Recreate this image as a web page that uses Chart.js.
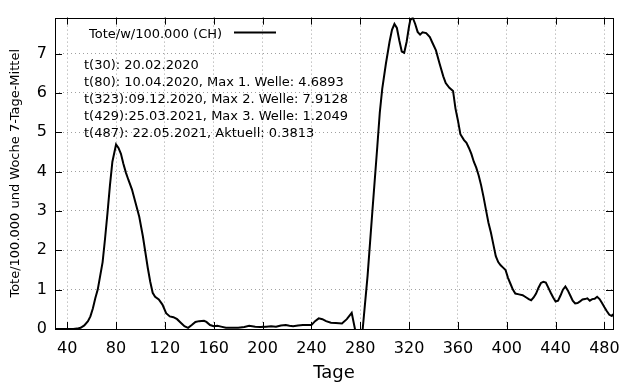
<!DOCTYPE html>
<html>
<head>
<meta charset="utf-8">
<script src="https://cdn.jsdelivr.net/npm/chart.js@4.4.1/dist/chart.umd.min.js"></script>
<style>
  html, body { margin: 0; padding: 0; background: #fff; }
</style>
</head>
<body>
<canvas id="chart" width="640" height="384"></canvas>
<script>
// Data
const seriesLabel = 'Tote/w/100.000 (CH)';
const days = [30, 35, 40, 45, 48, 51, 54, 57, 59, 61, 63, 65, 67, 69, 71, 73, 75, 77, 80, 82, 84, 86, 88, 90, 93, 96, 99, 102, 104, 106, 108, 110, 112, 115, 118, 121, 124, 127, 130, 133, 136, 139, 142, 145, 148, 152, 154, 157, 160, 163, 166, 170, 175, 180, 185, 189, 194, 198, 203, 207, 211, 215, 219, 222, 225, 229, 233, 236, 240, 243, 246, 249, 252, 256, 260, 265, 269, 273, 276, 278, 280, 282, 286, 290, 294, 296, 298, 301, 304, 306, 308, 310, 312, 314, 316, 318, 320, 321, 323, 325, 327, 329, 331, 334, 337, 339, 342, 345, 348, 350, 353, 356, 358, 360, 362, 365, 367, 369, 371, 373, 375, 377, 379, 381, 383, 385, 387, 389, 391, 393, 395, 397, 399, 401, 403, 405, 407, 410, 413, 416, 418, 420, 422, 424, 426, 428, 430, 432, 434, 436, 438, 440, 442, 444, 446, 448, 450, 452, 454, 456, 458, 460, 462, 464, 466, 468, 470, 472, 474, 476, 478, 480, 482, 484, 486, 487];
const deaths = [0, 0, 0, 0, 0.01, 0.03, 0.09, 0.2, 0.32, 0.52, 0.78, 1.0, 1.35, 1.7, 2.3, 2.95, 3.65, 4.25, 4.69, 4.6, 4.45, 4.2, 3.98, 3.8, 3.55, 3.2, 2.85, 2.35, 1.95, 1.55, 1.2, 0.92, 0.82, 0.75, 0.62, 0.4, 0.32, 0.3, 0.25, 0.16, 0.07, 0.03, 0.1, 0.18, 0.2, 0.21, 0.18, 0.1, 0.07, 0.08, 0.06, 0.03, 0.03, 0.03, 0.05, 0.08, 0.06, 0.05, 0.06, 0.07, 0.06, 0.09, 0.1, 0.08, 0.07, 0.09, 0.1, 0.1, 0.1, 0.2, 0.27, 0.25, 0.2, 0.16, 0.15, 0.14, 0.25, 0.41, -0.05, -0.8, -0.8, 0.0, 1.35, 3.02, 4.65, 5.5, 6.1, 6.74, 7.3, 7.6, 7.75, 7.65, 7.33, 7.05, 7.02, 7.3, 7.7, 7.85, 7.91, 7.75, 7.55, 7.48, 7.54, 7.52, 7.42, 7.28, 7.08, 6.74, 6.42, 6.25, 6.13, 6.05, 5.6, 5.3, 4.95, 4.8, 4.73, 4.6, 4.45, 4.25, 4.1, 3.9, 3.65, 3.35, 3.02, 2.7, 2.45, 2.15, 1.85, 1.7, 1.62, 1.56, 1.5, 1.3, 1.15, 1.0, 0.9, 0.88, 0.86, 0.8, 0.76, 0.73, 0.8, 0.9, 1.05, 1.17, 1.2, 1.18, 1.05, 0.92, 0.8, 0.7, 0.72, 0.85, 1.0, 1.08, 0.98, 0.85, 0.72, 0.65, 0.66, 0.7, 0.75, 0.76, 0.78, 0.72, 0.76, 0.77, 0.82, 0.76, 0.66, 0.55, 0.45, 0.36, 0.33, 0.38];
const xTicks = [40, 80, 120, 160, 200, 240, 280, 320, 360, 400, 440, 480];
const yTicks = [0, 1, 2, 3, 4, 5, 6, 7];
const notes = [
    't(30): 20.02.2020',
    't(80): 10.04.2020, Max 1. Welle: 4.6893',
    't(323):09.12.2020, Max 2. Welle: 7.9128',
    't(429):25.03.2021, Max 3. Welle: 1.2049',
    't(487): 22.05.2021, Aktuell: 0.3813'
];

Chart.defaults.font.family = "'DejaVu Sans', sans-serif";
Chart.defaults.color = '#000';

// gnuplot-like frame, inward ticks, key and label text
const frame = {
    id: 'frame',
    afterDatasetsDraw(chart) {
        const { ctx, chartArea: a, scales } = chart;
        const tl = 7;
        ctx.save();
        ctx.strokeStyle = '#000';
        ctx.lineWidth = 1;
        ctx.beginPath();
        xTicks.forEach(v => {
            const x = Math.round(scales.x.getPixelForValue(v)) + 0.5;
            ctx.moveTo(x, a.bottom); ctx.lineTo(x, a.bottom - tl);
            ctx.moveTo(x, a.top); ctx.lineTo(x, a.top + tl);
        });
        yTicks.forEach(v => {
            const y = Math.round(scales.y.getPixelForValue(v)) + 0.5;
            ctx.moveTo(a.left, y); ctx.lineTo(a.left + tl, y);
            ctx.moveTo(a.right, y); ctx.lineTo(a.right - tl, y);
        });
        ctx.stroke();
        ctx.strokeRect(Math.round(a.left) + 0.5, Math.round(a.top) + 0.5,
            Math.round(a.right - a.left), Math.round(a.bottom - a.top));

        // key
        ctx.fillStyle = '#000';
        ctx.font = "13px 'DejaVu Sans', sans-serif";
        ctx.textBaseline = 'alphabetic';
        ctx.fillText(chart.data.datasets[0].label, 89, 38);
        ctx.lineWidth = 2;
        ctx.beginPath();
        ctx.moveTo(234, 32.5); ctx.lineTo(276, 32.5);
        ctx.stroke();

        // notes
        notes.forEach((t, i) => ctx.fillText(t, 84, 69 + i * 17));
        ctx.restore();
    }
};

new Chart(document.getElementById('chart'), {
    type: 'line',
    data: {
        datasets: [{
            label: seriesLabel,
            data: days.map((d, i) => ({ x: d, y: deaths[i] })),
            borderColor: '#000',
            borderWidth: 2,
            pointRadius: 0,
            tension: 0,
            fill: false
        }]
    },
    options: {
        responsive: false,
        animation: false,
        layout: { padding: { top: 17, right: 27, left: 0, bottom: 0 } },
        plugins: {
            legend: { display: false },
            tooltip: { enabled: false }
        },
        scales: {
            x: {
                type: 'linear',
                min: 30,
                max: 487,
                afterBuildTicks: s => { s.ticks = xTicks.map(v => ({ value: v })); },
                afterFit: s => { s.height = 55; },
                grid: { color: '#a0a0a0', drawTicks: false, lineWidth: 1 },
                border: { display: false, dash: [1, 3] },
                ticks: { padding: 10, font: { size: 16 }, color: '#000', autoSkip: false, maxRotation: 0 },
                title: { display: true, text: 'Tage', font: { size: 18 }, color: '#000', padding: { top: 0, bottom: 0 } }
            },
            y: {
                min: 0,
                max: 7.9128,
                afterBuildTicks: s => { s.ticks = yTicks.map(v => ({ value: v })); },
                afterFit: s => { s.width = 55; },
                grid: { color: '#a0a0a0', drawTicks: false, lineWidth: 1 },
                border: { display: false, dash: [1, 3] },
                ticks: { padding: 8, font: { size: 16 }, color: '#000' },
                title: { display: true, text: 'Tote/100.000 und Woche 7-Tage-Mittel', font: { size: 13 }, color: '#000', padding: { top: 8, bottom: 0 } }
            }
        }
    },
    plugins: [frame]
});
</script>
</body>
</html>
